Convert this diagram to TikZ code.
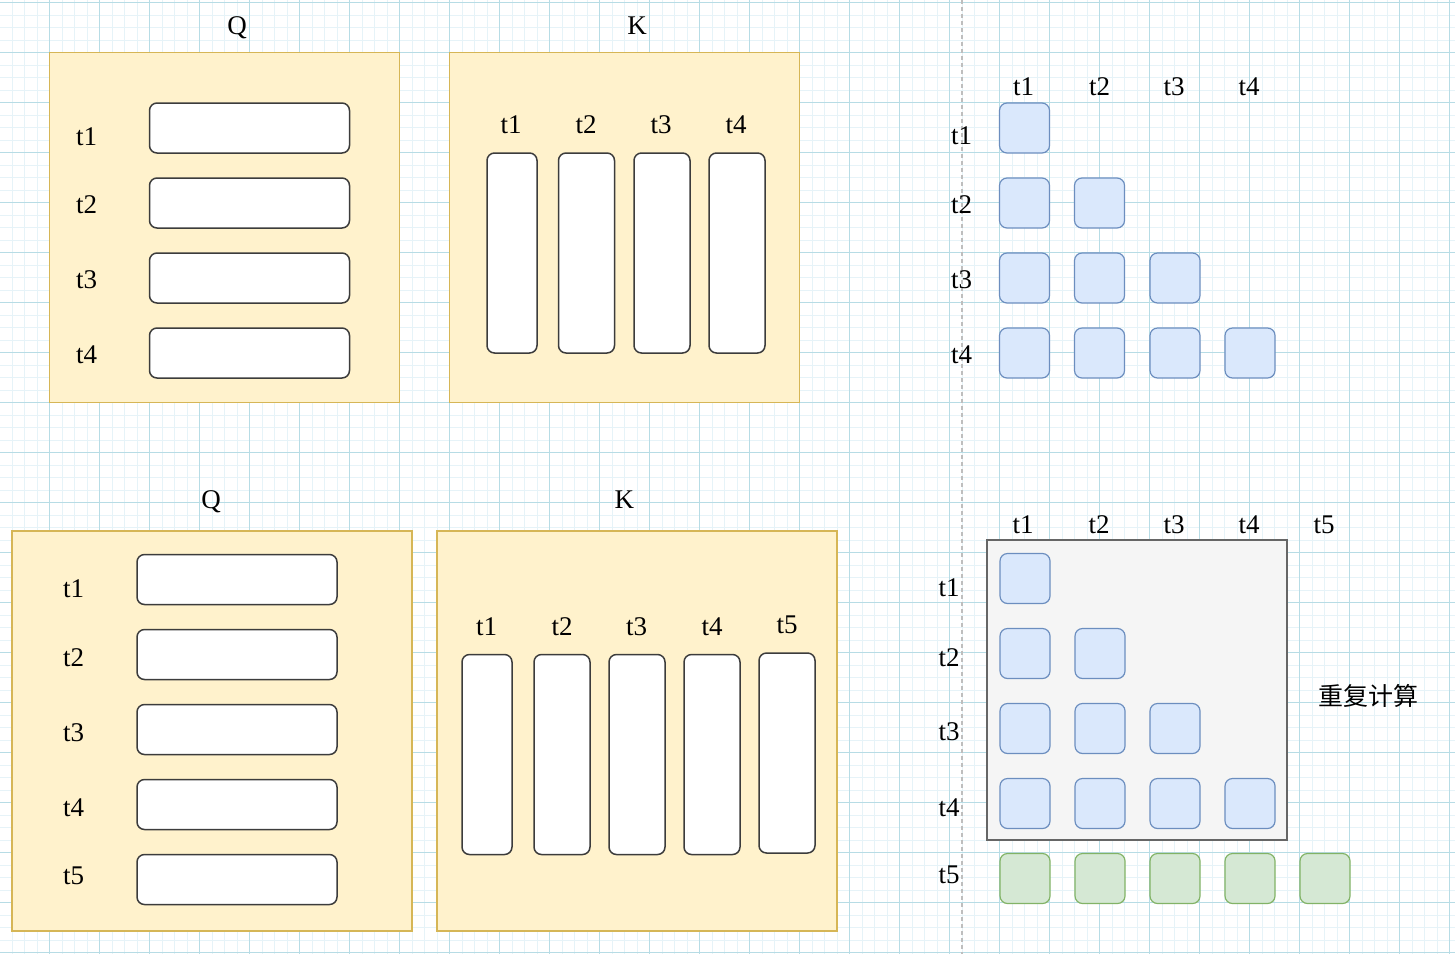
\documentclass[tikz,border=0pt]{standalone}
\usepackage{fontspec}
\setmainfont{Liberation Serif}
\newfontfamily\cjkfont{Noto Sans CJK SC}
\usepackage{xcolor}
\usepackage{tikz}
\definecolor{panelfyll}{HTML}{FFF2CC}
\definecolor{panelkant}{HTML}{D6B656}
\definecolor{cellefyll}{HTML}{DAE8FC}
\definecolor{cellekant}{HTML}{6C8EBF}
\definecolor{nyfyll}{HTML}{D5E8D4}
\definecolor{nykant}{HTML}{82B366}
\definecolor{boksfyll}{HTML}{F5F5F5}
\definecolor{bokskant}{HTML}{666666}
\definecolor{radkant}{HTML}{3C3C3C}
\definecolor{rutefin}{HTML}{E6F3F8}
\definecolor{rutegrov}{HTML}{B7DCE5}
\definecolor{skillegraa}{HTML}{BEBEBE}

\begin{document}
\begin{tikzpicture}[x=1pt, y=-1pt]
    \tikzset{
        panel/.style={
            draw=panelkant,
            fill=panelfyll,
            line width=1.5pt,
            inner sep=0pt
        },
        qrow/.style={
            draw=radkant,
            fill=white,
            rounded corners=7.5pt,
            line width=1.5pt,
            minimum width=200pt,
            minimum height=50pt,
            inner sep=0pt
        },
        kcol/.style={
            draw=radkant,
            fill=white,
            rounded corners=7.5pt,
            line width=1.5pt,
            minimum width=56pt,
            minimum height=200pt,
            inner sep=0pt
        },
        cell/.style={
            draw=cellekant,
            fill=cellefyll,
            rounded corners=7.5pt,
            line width=1.2pt,
            minimum size=50pt,
            inner sep=0pt
        },
        newcell/.style={
            cell,
            draw=nykant,
            fill=nyfyll
        },
        redo/.style={
            draw=bokskant,
            fill=boksfyll,
            line width=1.5pt,
            minimum size=300pt,
            inner sep=0pt
        },
        lab/.style={
            font=\fontsize{27}{29}\selectfont,
            anchor=base,
            inner sep=0pt
        },
        gridfine/.style={draw=rutefin, line width=1pt},
        gridcoarse/.style={draw=rutegrov, line width=1pt},
        sepline/.style={draw=skillegraa, line width=1.5pt, dash pattern=on 4pt off 3pt}
    }

    \useasboundingbox (0,0) rectangle (1455,954);
    \fill[white] (0,0) rectangle (1455,954);

    % Rutenett i bakgrunnen
    \foreach \gx in {0,...,117} \draw[gridfine] ({12.5*\gx-0.5},0) -- ({12.5*\gx-0.5},954);
    \foreach \gy in {0,...,76}  \draw[gridfine] (0,{12.5*\gy+2.5}) -- (1455,{12.5*\gy+2.5});
    \foreach \gx in {0,...,29}  \draw[gridcoarse] ({50*\gx-0.5},0) -- ({50*\gx-0.5},954);
    \foreach \gy in {0,...,19}  \draw[gridcoarse] (0,{50*\gy+2.5}) -- (1455,{50*\gy+2.5});

    % Skillelinje
    \coordinate (sepTop) at (962,0);
    \coordinate (sepBot) at (962,954);
    \draw[sepline] (sepTop) -- (sepBot);

    % Q og K med fire token
    \node[panel, minimum size=350pt] (qpanA) at (224.5,227.5) {};
    \node[panel, minimum size=350pt] (kpanA) at (624.5,227.5) {};
    \node[lab] (qtitA) at (237,34) {Q};
    \node[lab] (ktitA) at (637,34) {K};

    \node[qrow] (qrowA1) at (249.5,128) {};
    \node[qrow] (qrowA2) at (249.5,203) {};
    \node[qrow] (qrowA3) at (249.5,278) {};
    \node[qrow] (qrowA4) at (249.5,353) {};
    \node[lab] (qlabA1) at (86.5,145)   {t1};
    \node[lab] (qlabA2) at (86.5,213.5) {t2};
    \node[lab] (qlabA3) at (86.5,288.5) {t3};
    \node[lab] (qlabA4) at (86.5,363.5) {t4};

    \node[kcol, minimum width=50pt] (kcolA1) at (512,253) {};
    \node[kcol] (kcolA2) at (586.5,253) {};
    \node[kcol] (kcolA3) at (662,253)   {};
    \node[kcol] (kcolA4) at (737,253)   {};
    \node[lab] (klabA1) at (511,133) {t1};
    \node[lab] (klabA2) at (586,133) {t2};
    \node[lab] (klabA3) at (661,133) {t3};
    \node[lab] (klabA4) at (736,133) {t4};

    % Maske for fire token
    \node[lab] (hA1) at (1023.5,95) {t1};
    \node[lab] (hA2) at (1099.5,95) {t2};
    \node[lab] (hA3) at (1174,95)   {t3};
    \node[lab] (hA4) at (1249,95)   {t4};
    \node[lab] (vA1) at (961.5,144.5) {t1};
    \node[lab] (vA2) at (961.5,213.5) {t2};
    \node[lab] (vA3) at (961.5,288.5) {t3};
    \node[lab] (vA4) at (961.5,363.5) {t4};

    \node[cell] (cA11) at (1024.5,128) {};
    \node[cell] (cA21) at (1024.5,203) {};
    \node[cell] (cA22) at (1099.5,203) {};
    \node[cell] (cA31) at (1024.5,278) {};
    \node[cell] (cA32) at (1099.5,278) {};
    \node[cell] (cA33) at (1175,278)   {};
    \node[cell] (cA41) at (1024.5,353) {};
    \node[cell] (cA42) at (1099.5,353) {};
    \node[cell] (cA43) at (1175,353)   {};
    \node[cell] (cA44) at (1250,353)   {};

    % Q og K med fem token
    \node[panel, minimum size=400pt] (qpanB) at (212,731) {};
    \node[panel, minimum size=400pt] (kpanB) at (637,731) {};
    \node[lab] (qtitB) at (211,508.3)   {Q};
    \node[lab] (ktitB) at (624.3,508.3) {K};

    \node[qrow] (qrowB1) at (237,579.5) {};
    \node[qrow] (qrowB2) at (237,654.5) {};
    \node[qrow] (qrowB3) at (237,729.5) {};
    \node[qrow] (qrowB4) at (237,804.5) {};
    \node[qrow] (qrowB5) at (237,879.5) {};
    \node[lab] (qlabB1) at (73.5,597.3) {t1};
    \node[lab] (qlabB2) at (73.5,666)   {t2};
    \node[lab] (qlabB3) at (73.5,741)   {t3};
    \node[lab] (qlabB4) at (73.5,816)   {t4};
    \node[lab] (qlabB5) at (73.5,884)   {t5};

    \node[kcol, minimum width=50pt] (kcolB1) at (487,754.5) {};
    \node[kcol] (kcolB2) at (562,754.5) {};
    \node[kcol] (kcolB3) at (637,754.5) {};
    \node[kcol] (kcolB4) at (712,754.5) {};
    \node[kcol] (kcolB5) at (787,753)   {};
    \node[lab] (klabB1) at (486.7,635)   {t1};
    \node[lab] (klabB2) at (562,635)     {t2};
    \node[lab] (klabB3) at (636.7,635)   {t3};
    \node[lab] (klabB4) at (712,635)     {t4};
    \node[lab] (klabB5) at (787,633.5)   {t5};

    % Maske for fem token
    \node[redo] (redoBox) at (1137,690) {};
    \node[lab] (hB1) at (1023,533) {t1};
    \node[lab] (hB2) at (1099,533) {t2};
    \node[lab] (hB3) at (1174,533) {t3};
    \node[lab] (hB4) at (1249,533) {t4};
    \node[lab] (hB5) at (1324,533) {t5};
    \node[lab] (vB1) at (949,596.7) {t1};
    \node[lab] (vB2) at (949,666)   {t2};
    \node[lab] (vB3) at (949,740.5) {t3};
    \node[lab] (vB4) at (949,816)   {t4};
    \node[lab] (vB5) at (949,883.5) {t5};

    \node[cell] (cB11) at (1025,578.5) {};
    \node[cell] (cB21) at (1025,653.5) {};
    \node[cell] (cB22) at (1100,653.5) {};
    \node[cell] (cB31) at (1025,728.5) {};
    \node[cell] (cB32) at (1100,728.5) {};
    \node[cell] (cB33) at (1175,728.5) {};
    \node[cell] (cB41) at (1025,803.5) {};
    \node[cell] (cB42) at (1100,803.5) {};
    \node[cell] (cB43) at (1175,803.5) {};
    \node[cell] (cB44) at (1250,803.5) {};
    \node[newcell] (gB1) at (1025,878.5) {};
    \node[newcell] (gB2) at (1100,878.5) {};
    \node[newcell] (gB3) at (1175,878.5) {};
    \node[newcell] (gB4) at (1250,878.5) {};
    \node[newcell] (gB5) at (1325,878.5) {};

    \node[font=\cjkfont\fontsize{25}{27}\selectfont, inner sep=0pt] (redoText) at (1368,696) {重复计算};
\end{tikzpicture}
\end{document}
